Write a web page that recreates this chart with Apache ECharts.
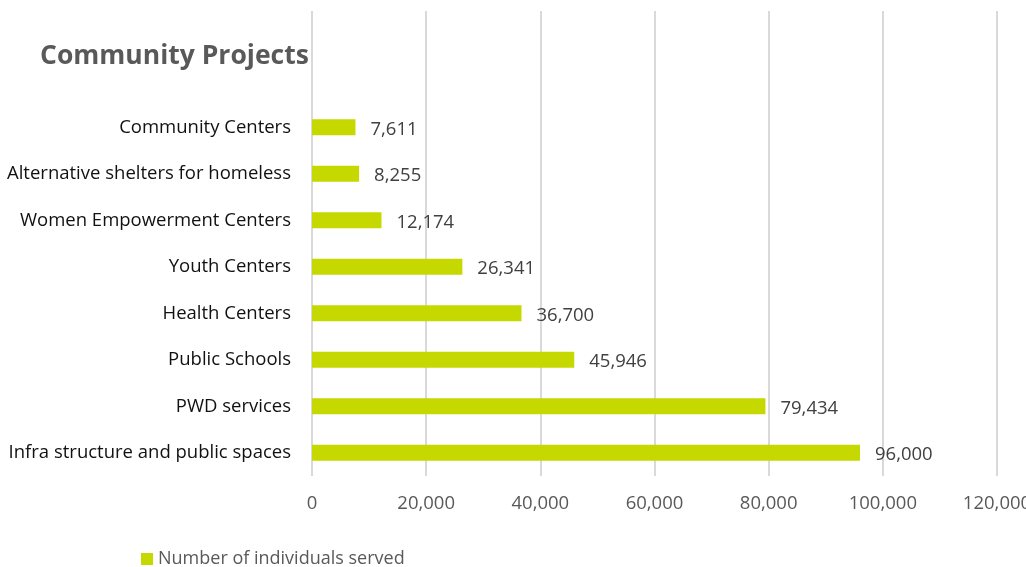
<!DOCTYPE html>
<html>
<head>
<meta charset="utf-8">
<script src="https://cdn.jsdelivr.net/npm/echarts@6/dist/echarts.min.js"></script>
<style>
    html, body { margin: 0; padding: 0; background: #fff; }
    #chart { width: 1026px; height: 567px; }
</style>
</head>
<body>
<div id="chart"></div>
<script>
// two blank rows on top, like the Excel source
const categories = [
    'Infra structure and public spaces',
    'PWD services',
    'Public Schools',
    'Health Centers',
    'Youth Centers',
    'Women Empowerment Centers',
    'Alternative shelters for homeless',
    'Community Centers',
    '',
    ''
];
const served = [96000, 79434, 45946, 36700, 26341, 12174, 8255, 7611, null, null];
const xTicks = [0, 20000, 40000, 60000, 80000, 100000, 120000];

const fontFamily = '"Open Sans", "Noto Sans", sans-serif';
const fontSize = 18.5;
const chart = echarts.init(document.getElementById('chart'));

chart.setOption({
    animation: false,
    title: {
        text: 'Community Projects',
        left: 40,
        top: 43,
        padding: 0,
        textStyle: {
            fontFamily: fontFamily,
            fontSize: 26.5,
            fontWeight: 'bold',
            color: '#595959'
        }
    },
    legend: {
        left: 141,
        top: 550,
        padding: 0,
        itemWidth: 12,
        itemHeight: 12,
        itemGap: 6,
        icon: 'rect',
        textStyle: {
            fontFamily: fontFamily,
            fontSize: 18,
            color: '#595959'
        },
        data: ['Number of individuals served']
    },
    grid: {
        left: 312,
        right: 29,
        top: 11,
        bottom: 91,
        outerBoundsMode: 'none',
        containLabel: false
    },
    xAxis: {
        type: 'value',
        min: xTicks[0],
        max: xTicks[xTicks.length - 1],
        interval: xTicks[1] - xTicks[0],
        axisLine: { show: false },
        axisTick: { show: false },
        splitLine: {
            show: true,
            lineStyle: { color: '#d9d9d9', width: 2 }
        },
        axisLabel: {
            margin: 18,
            fontFamily: fontFamily,
            fontSize: fontSize,
            color: '#595959',
            formatter: (v) => v.toLocaleString('en-US')
        }
    },
    yAxis: {
        type: 'category',
        data: categories,
        axisLine: { show: false },
        axisTick: { show: false },
        axisLabel: {
            margin: 21,
            fontFamily: fontFamily,
            fontSize: fontSize,
            color: '#111'
        }
    },
    series: [
        {
            name: 'Number of individuals served',
            type: 'bar',
            data: served,
            barWidth: 16,
            itemStyle: { color: '#c5d800' },
            label: {
                show: true,
                position: 'right',
                distance: 15,
                offset: [0, 2],
                fontFamily: fontFamily,
                fontSize: fontSize,
                color: '#404040',
                formatter: (p) => p.value == null ? '' : p.value.toLocaleString('en-US')
            }
        }
    ]
});
</script>
</body>
</html>
